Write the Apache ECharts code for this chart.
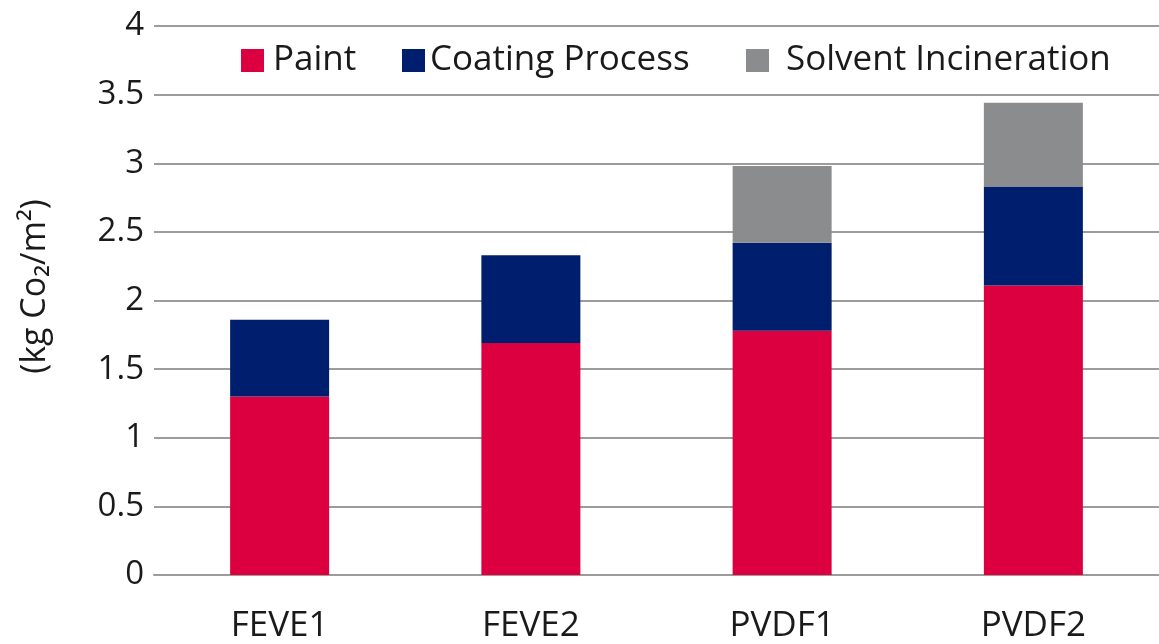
<!DOCTYPE html>
<html>
<head>
<meta charset="utf-8">
<script src="https://cdn.jsdelivr.net/npm/echarts@6/dist/echarts.min.js"></script>
<style>
html,body{margin:0;padding:0;background:#fff;}
#chart{width:1159px;height:644px;}
</style>
</head>
<body>
<div id="chart"></div>
<script>
const categories = ['FEVE1', 'FEVE2', 'PVDF1', 'PVDF2'];
const paint = [1.30, 1.69, 1.78, 2.11];
const coating = [0.56, 0.64, 0.64, 0.72];
const solvent = [null, null, 0.56, 0.61];
const yTicks = [0, 0.5, 1, 1.5, 2, 2.5, 3, 3.5, 4];

const chart = echarts.init(document.getElementById('chart'));
const txt = '#1a1a1a';
const gridCol = '#9c9c9c';
const reg = '"Open Sans", "Noto Sans", sans-serif';

function legendItem(name, left, gap) {
  return {
    data: [name],
    left: left,
    top: 43,
    itemWidth: 23,
    itemHeight: 23,
    itemGap: 0,
    icon: 'rect',
    padding: 0,
    textStyle: {fontFamily: reg, fontSize: 35, color: txt, padding: [0, 0, 0, gap]},
    selectedMode: false
  };
}

chart.setOption({
  animation: false,
  legend: [
    legendItem('Paint', 241, 4),
    legendItem('Coating Process', 402, 0),
    legendItem('Solvent Incineration', 746, 12)
  ],
  grid: {left: 154, right: -2, top: 26, bottom: 67},
  xAxis: {
    type: 'category',
    data: categories,
    axisTick: {show: false},
    axisLine: {lineStyle: {color: gridCol, width: 2}},
    axisLabel: {fontFamily: reg, fontSize: 35, color: txt, margin: 34}
  },
  yAxis: {
    type: 'value',
    min: yTicks[0],
    max: yTicks[yTicks.length - 1],
    interval: 0.5,
    name: '(kg Co₂/m²)',
    nameLocation: 'middle',
    nameGap: 102,
    nameTextStyle: {fontFamily: reg, fontSize: 34, color: txt, padding: [0, 0, 0, 28]},
    axisLine: {show: false},
    axisTick: {show: false},
    axisLabel: {fontFamily: reg, fontSize: 33, color: txt, margin: 10},
    splitLine: {lineStyle: {color: gridCol, width: 2}}
  },
  series: [
    {name: 'Paint', type: 'bar', stack: 't', data: paint, barWidth: 99, itemStyle: {color: '#dc0040'}},
    {name: 'Coating Process', type: 'bar', stack: 't', data: coating, barWidth: 99, itemStyle: {color: '#001e6e'}},
    {name: 'Solvent Incineration', type: 'bar', stack: 't', data: solvent, barWidth: 99, itemStyle: {color: '#8a8c8e'}}
  ]
});
</script>
</body>
</html>
